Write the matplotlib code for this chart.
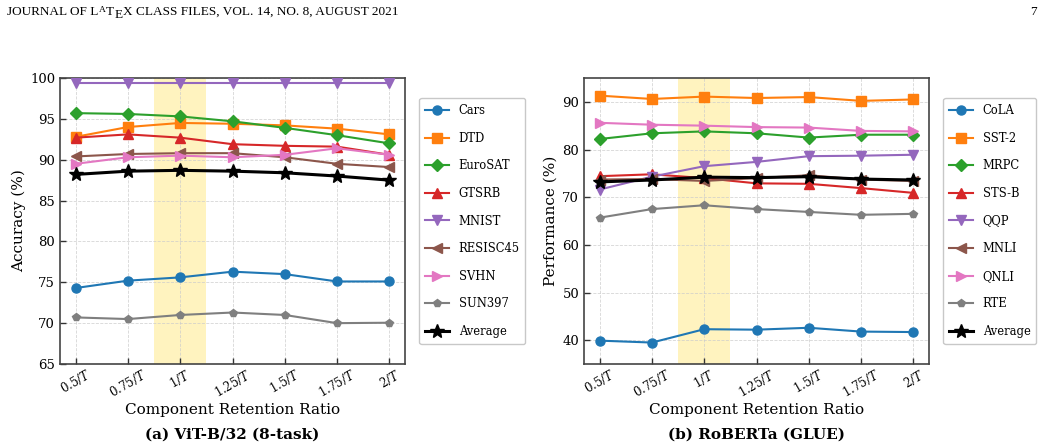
import matplotlib
matplotlib.use("Agg")
import matplotlib.pyplot as plt

plt.rcParams['font.family'] = ['DejaVu Serif']
plt.rcParams['mathtext.fontset'] = 'dejavuserif'

ratio_labels = ["0.5/$T$", "0.75/$T$", "1/$T$", "1.25/$T$", "1.5/$T$", "1.75/$T$", "2/$T$"]

vit_tasks = ["Cars", "DTD", "EuroSAT", "GTSRB", "MNIST", "RESISC45", "SVHN", "SUN397", "Average"]
vit_cars = [74.3, 75.2, 75.6, 76.3, 76.0, 75.1, 75.1]
vit_dtd = [92.8, 94.0, 94.5, 94.4, 94.2, 93.8, 93.1]
vit_eurosat = [95.7, 95.6, 95.3, 94.7, 93.9, 93.0, 92.0]
vit_gtsrb = [92.7, 93.1, 92.7, 91.9, 91.7, 91.6, 90.6]
vit_mnist = [99.4, 99.4, 99.4, 99.4, 99.4, 99.4, 99.4]
vit_resisc45 = [90.4, 90.7, 90.8, 90.8, 90.3, 89.5, 89.1]
vit_svhn = [89.5, 90.3, 90.5, 90.3, 90.6, 91.4, 90.6]
vit_sun397 = [70.7, 70.5, 71.0, 71.3, 71.0, 70.0, 70.05]
vit_avg = [88.2, 88.6, 88.7, 88.6, 88.4, 88.0, 87.5]

glue_tasks = ["CoLA", "SST-2", "MRPC", "STS-B", "QQP", "MNLI", "QNLI", "RTE", "Average"]
glue_cola = [39.9, 39.5, 42.3, 42.2, 42.6, 41.8, 41.7]
glue_sst2 = [91.3, 90.6, 91.1, 90.8, 91.0, 90.2, 90.5]
glue_mrpc = [82.2, 83.4, 83.8, 83.4, 82.5, 83.1, 83.1]
glue_stsb = [74.4, 74.8, 74.0, 72.9, 72.8, 71.9, 70.9]
glue_qqp = [71.6, 74.3, 76.5, 77.4, 78.6, 78.7, 78.9]
glue_mnli = [73.7, 73.8, 73.4, 74.0, 74.6, 73.7, 73.4]
glue_qnli = [85.6, 85.2, 85.0, 84.7, 84.6, 83.9, 83.8]
glue_rte = [65.7, 67.5, 68.3, 67.5, 66.9, 66.3, 66.5]
glue_avg = [73.2, 73.6, 74.2, 74.1, 74.3, 73.8, 73.6]

vit_series = [vit_cars, vit_dtd, vit_eurosat, vit_gtsrb, vit_mnist, vit_resisc45, vit_svhn, vit_sun397, vit_avg]
glue_series = [glue_cola, glue_sst2, glue_mrpc, glue_stsb, glue_qqp, glue_mnli, glue_qnli, glue_rte, glue_avg]

colors = ["#1f77b4", "#ff7f0e", "#2ca02c", "#d62728", "#9467bd", "#8c564b", "#e377c2", "#7f7f7f", "black"]
markers = ["o", "s", "D", "^", "v", "<", ">", "p", "*"]

W, H = 1041, 448
fig = plt.figure(figsize=(W/100, H/100), dpi=100)
ax1 = fig.add_axes([60/W, 1-364/H, 345/W, 286/H])
ax2 = fig.add_axes([584/W, 1-364/H, 345/W, 286/H])


def draw(ax, series, names, ylim, yticks, ylabel):
    x = list(range(len(ratio_labels)))
    ax.axvspan(1.5, 2.5, color="#fff3bf", zorder=0, lw=0)
    for i, (vals, name) in enumerate(zip(series, names)):
        if name == "Average":
            ax.plot(x, vals, color="black", marker="*", markersize=10, lw=2.2, label=name, zorder=5)
        else:
            ms = 6.5 if markers[i] not in ("p",) else 6
            if markers[i] == "D":
                ms = 6
            ax.plot(x, vals, color=colors[i], marker=markers[i], markersize=ms,
                    lw=1.5, label=name, zorder=3)
    ax.set_xlim(-0.3, 6.3)
    ax.set_ylim(*ylim)
    ax.set_yticks(yticks)
    ax.set_xticks(x)
    ax.set_xticklabels(ratio_labels, rotation=30, fontsize=8.5)
    ax.tick_params(axis='y', labelsize=9.5)
    ax.tick_params(axis='x', pad=2)
    ax.tick_params(direction='in', length=4, width=1, color='#333333')
    ax.grid(True, linestyle='--', color='#cccccc', lw=0.6, alpha=0.8)
    ax.set_axisbelow(True)
    for s in ax.spines.values():
        s.set_color('#444444')
        s.set_linewidth(1.2)
    ax.set_ylabel(ylabel, fontsize=11, labelpad=3)
    ax.set_xlabel("Component Retention Ratio", fontsize=11, labelpad=2)
    ax.legend(loc='center left', bbox_to_anchor=(1.025, 0.5), fontsize=8.3, labelspacing=1.27,
              handlelength=2.1, handletextpad=0.8, borderpad=0.5, frameon=True,
              edgecolor='#bbbbbb', fancybox=True)


draw(ax1, vit_series, vit_tasks, (65, 100), [65, 70, 75, 80, 85, 90, 95, 100], "Accuracy (%)")
draw(ax2, glue_series, glue_tasks, (35, 95), [40, 50, 60, 70, 80, 90], "Performance (%)")

fig.text(232/W, 1-435/H, "(a) ViT-B/32 (8-task)", ha='center', va='center',
         fontsize=11, fontweight='bold')
fig.text(756/W, 1-435/H, "(b) RoBERTa (GLUE)", ha='center', va='center',
         fontsize=11, fontweight='bold')

# running header with the LaTeX logo
hdr_fs = 9.5
hdr_y = 1 - 12/H
renderer = fig.canvas.get_renderer()
pieces = [("JOURNAL OF L", hdr_fs, 0.0), ("A", hdr_fs*0.72, 2.5), ("T", hdr_fs, 0.0),
          ("E", hdr_fs, -3.0), ("X CLASS FILES, VOL. 14, NO. 8, AUGUST 2021", hdr_fs, 0.0)]
xpix = 7
for txt, fs, dy in pieces:
    t = fig.text(xpix/W, hdr_y + dy/H, txt, ha='left', va='center', fontsize=fs, family='Liberation Serif')
    bb = t.get_window_extent(renderer)
    xpix = bb.x1 + 0.3
fig.text(1037/W, hdr_y, "7", ha='right', va='center', fontsize=hdr_fs, family='Liberation Serif')

fig.savefig("out.png", dpi=100)
